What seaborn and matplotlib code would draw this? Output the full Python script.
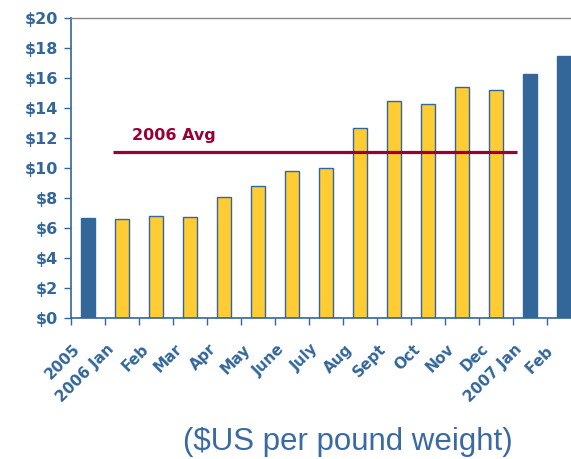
import matplotlib
matplotlib.use("Agg")
import matplotlib.pyplot as plt
import matplotlib.transforms as mtransforms
import seaborn as sns
import pandas as pd
from matplotlib.ticker import FixedLocator

# Monthly price data ($US per pound weight)
categories = ["2005", "2006 Jan", "Feb", "Mar", "Apr", "May", "June", "July",
              "Aug", "Sept", "Oct", "Nov", "Dec", "2007 Jan", "Feb "]
prices = [6.7, 6.6, 6.8, 6.75, 8.1, 8.8, 9.8, 10.0,
          12.7, 14.5, 14.3, 15.4, 15.2, 16.3, 17.5]
is_2006 = [False] + [True] * 12 + [False, False]
avg_2006 = 11.1
avg_label = "2006 Avg"
y_ticks = list(range(0, 21, 2))
caption = "($US per pound weight)"

BLUE = "#336699"
YELLOW = "#FFCC33"
MAROON = "#990033"

df = pd.DataFrame({"period": categories, "price": prices})
palette = [YELLOW if f else BLUE for f in is_2006]

sns.set_style("white")
fig = plt.figure(figsize=(5.71, 4.59), dpi=100)
ax = fig.add_axes([70.7 / 571, 141 / 459, 510 / 571, 300 / 459])

sns.barplot(data=df, x="period", y="price", hue="period", palette=palette,
            legend=False, width=0.42, edgecolor=BLUE, linewidth=1.0,
            saturation=1, ax=ax)

# 2006 average line with label
ax.plot([0.75, 12.62], [avg_2006, avg_2006], color=MAROON, lw=2.3,
        solid_capstyle="butt", zorder=5)
ax.text(1.3, avg_2006 + 0.55, avg_label, color=MAROON, fontsize=11.5,
        fontweight="bold", ha="left", va="bottom")

ax.set_xlim(-0.5, len(categories) - 0.5)
ax.set_ylim(0, 20)
ax.set_yticks(y_ticks)
ax.set_yticklabels([f"${v}" for v in y_ticks])
ax.set_xlabel("")
ax.set_ylabel("")

# Spines
for side in ("left", "bottom"):
    ax.spines[side].set_color(BLUE)
    ax.spines[side].set_linewidth(1.2)
ax.spines["top"].set_color("#888888")
ax.spines["top"].set_linewidth(1.0)
ax.spines["right"].set_visible(False)

# Tick styling
ax.tick_params(axis="y", direction="out", length=5, width=1.0, color=BLUE,
               labelcolor=BLUE, labelsize=11.5, pad=4, left=True)
for lab in ax.get_yticklabels():
    lab.set_fontweight("bold")

ax.xaxis.set_minor_locator(FixedLocator([i - 0.5 for i in range(len(categories) + 1)]))
ax.tick_params(axis="x", which="minor", direction="out", length=5, width=1.0,
               color=BLUE, bottom=True)
ax.tick_params(axis="x", which="major", length=0, labelcolor=BLUE,
               labelsize=11, pad=6)
ax.set_xticks(range(len(categories)))
ax.set_xticklabels(categories, rotation=45, ha="right", rotation_mode="anchor",
                   fontweight="bold")
# nudge the slanted labels down and to the left of their bars
shift = mtransforms.ScaledTranslation(-0.15, -0.15, fig.dpi_scale_trans)
for lab in ax.get_xticklabels():
    lab.set_transform(lab.get_transform() + shift)

fig.text(0.609, 0.037, caption, color="#3A6AA3", fontsize=22.5,
         family="Liberation Sans", ha="center", va="center")

fig.savefig("out.png", dpi=100)
